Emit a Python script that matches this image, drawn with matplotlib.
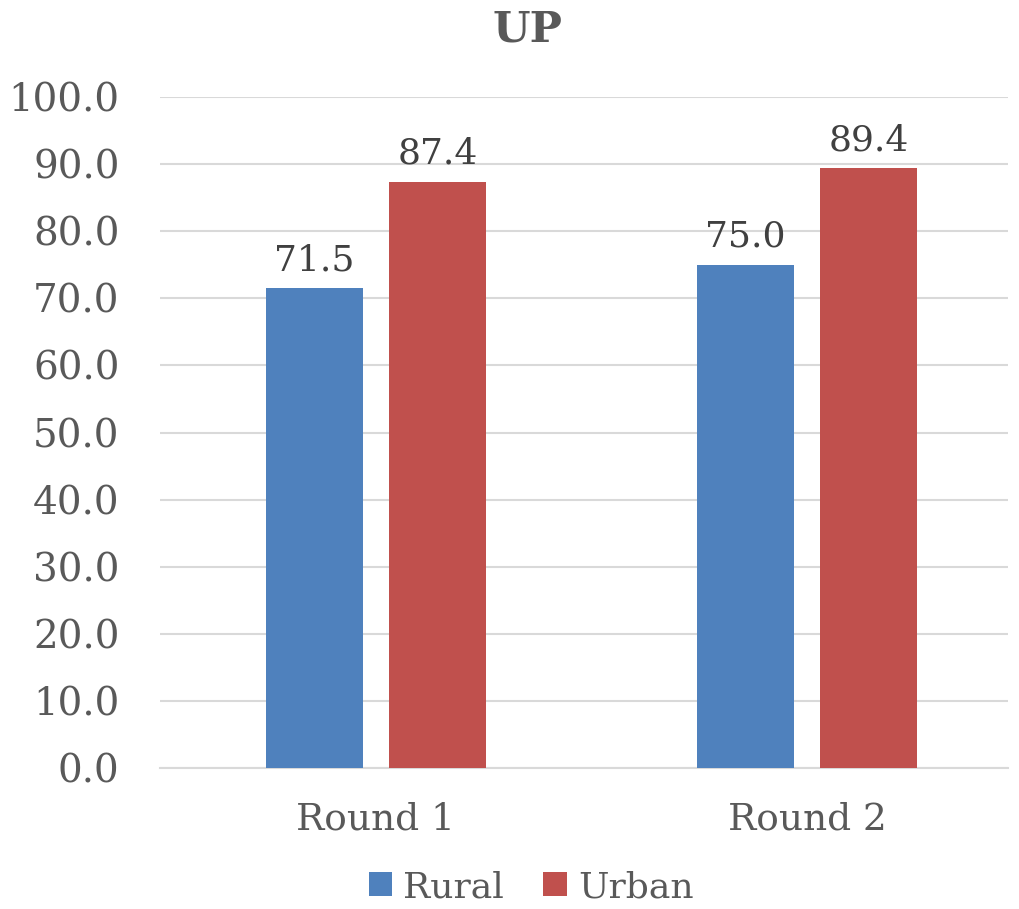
import numpy as np
import matplotlib
matplotlib.use("Agg")
import matplotlib.pyplot as plt

# data
rounds = ["Round 1", "Round 2"]
rural = [71.5, 75.0]
urban = [87.4, 89.4]
yticks = [0, 10, 20, 30, 40, 50, 60, 70, 80, 90, 100]

plt.rcParams['font.family'] = ['DejaVu Serif']

fig = plt.figure(figsize=(10.2, 9.09), dpi=100)
ax = fig.add_axes([160 / 1020, 1 - 768 / 909, 848 / 1020, 671 / 909])

x = np.arange(len(rounds))
w = 0.225
off = 0.143
b1 = ax.bar(x - off, rural, w, color='#4F81BD', label='Rural', zorder=3)
b2 = ax.bar(x + off, urban, w, color='#C0504D', label='Urban', zorder=3)

for bars in (b1, b2):
    for b in bars:
        ax.annotate(f"{b.get_height():.1f}", (b.get_x() + b.get_width() / 2, b.get_height()),
                    xytext=(0, 8), textcoords='offset points', ha='center', va='bottom',
                    fontsize=26, color='#404040')

ax.set_ylim(0, 100)
ax.set_xlim(-0.501, 1.466)
ax.set_yticks(yticks)
ax.set_yticklabels([f"{v:.1f}" for v in yticks], fontsize=28, color='#595959')
ax.set_xticks(x)
ax.set_xticklabels(rounds, fontsize=27, color='#595959')
ax.tick_params(axis='both', length=0)
ax.tick_params(axis='y', pad=29)
ax.tick_params(axis='x', pad=24)
ax.grid(axis='y', color='#d9d9d9', linewidth=1.5, zorder=0)
for s in ['top', 'right', 'left']:
    ax.spines[s].set_visible(False)
ax.spines['bottom'].set_color('#d9d9d9')
ax.spines['bottom'].set_linewidth(1.5)

fig.text(527 / 1020, 1 - 30 / 909, "UP", ha='center', va='center', fontsize=31,
         fontweight='bold', color='#595959')

fig.legend(loc='center', bbox_to_anchor=(531 / 1020, 1 - 887 / 909), ncol=2, frameon=False,
           fontsize=26, labelcolor='#595959', handlelength=0.65, handleheight=0.65,
           handletextpad=0.3, columnspacing=1.1)

fig.savefig("out.png", dpi=100)
